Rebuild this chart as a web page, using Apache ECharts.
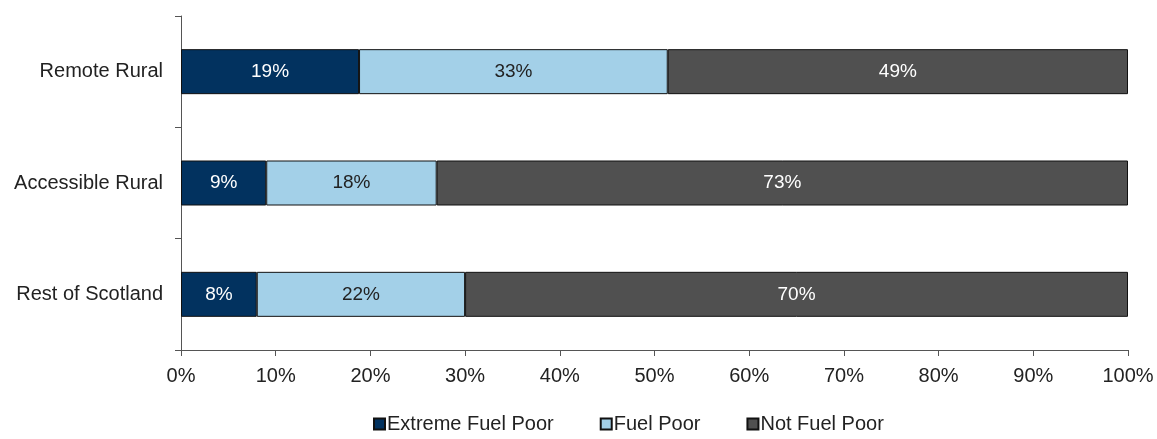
<!DOCTYPE html>
<html><head><meta charset="utf-8">
<script src="https://cdn.jsdelivr.net/npm/echarts@6/dist/echarts.min.js"></script>
<style>html,body{margin:0;padding:0;background:#fff}#c{width:1157px;height:439px}</style>
</head><body><div id="c"></div>
<script>
var categories = ['Rest of Scotland', 'Accessible Rural', 'Remote Rural'];
var seriesNames = ['Extreme Fuel Poor', 'Fuel Poor', 'Not Fuel Poor'];
var extremeFuelPoor = [8.0, 9.0, 18.8];
var fuelPoor = [22.0, 18.0, 32.6];
var notFuelPoor = [70.0, 73.0, 48.6];
var xTicks = [0, 10, 20, 30, 40, 50, 60, 70, 80, 90, 100];

var colors = ['#02325f', '#a3d0e8', '#505050'];
var labelColors = ['#ffffff', '#222222', '#ffffff'];
var values = [extremeFuelPoor, fuelPoor, notFuelPoor];
var font = 'Liberation Sans, Arial, sans-serif';

var chart = echarts.init(document.getElementById('c'), null, {renderer: 'canvas'});
chart.setOption({
  animation: false,
  textStyle: {fontFamily: font},
  grid: {left: 181, right: 29, top: 16, bottom: 89, containLabel: false},
  legend: {
    bottom: 0, left: 368,
    itemWidth: 11, itemHeight: 11, itemGap: 46,
    icon: 'rect',
    textStyle: {fontFamily: font, fontSize: 20, color: '#222', padding: [0, 0, 0, -3]},
    data: seriesNames
  },
  xAxis: {
    type: 'value', min: xTicks[0], max: xTicks[xTicks.length - 1], interval: 10,
    axisLine: {show: true, lineStyle: {color: '#555', width: 1}},
    axisTick: {show: true, length: 6, lineStyle: {color: '#555'}},
    splitLine: {show: false},
    axisLabel: {formatter: '{value}%', fontSize: 20, color: '#222', margin: 16, fontFamily: font}
  },
  yAxis: {
    type: 'category', data: categories,
    axisLine: {show: true, lineStyle: {color: '#555', width: 1}},
    axisTick: {show: true, length: 6, inside: false, lineStyle: {color: '#555'}},
    axisLabel: {fontSize: 20, color: '#222', margin: 18, fontFamily: font, padding: [3, 0, 0, 0]},
    splitLine: {show: false}
  },
  series: seriesNames.map(function (name, i) {
    return {
      name: name, type: 'bar', stack: 'total', barWidth: 45,
      data: values[i],
      itemStyle: {color: colors[i], borderColor: '#111', borderWidth: 1},
      label: {
        show: true, position: 'inside', color: labelColors[i], fontSize: 19, fontFamily: font,
        formatter: function (p) { return Math.round(p.value) + '%'; }
      }
    };
  })
});
</script></body></html>
